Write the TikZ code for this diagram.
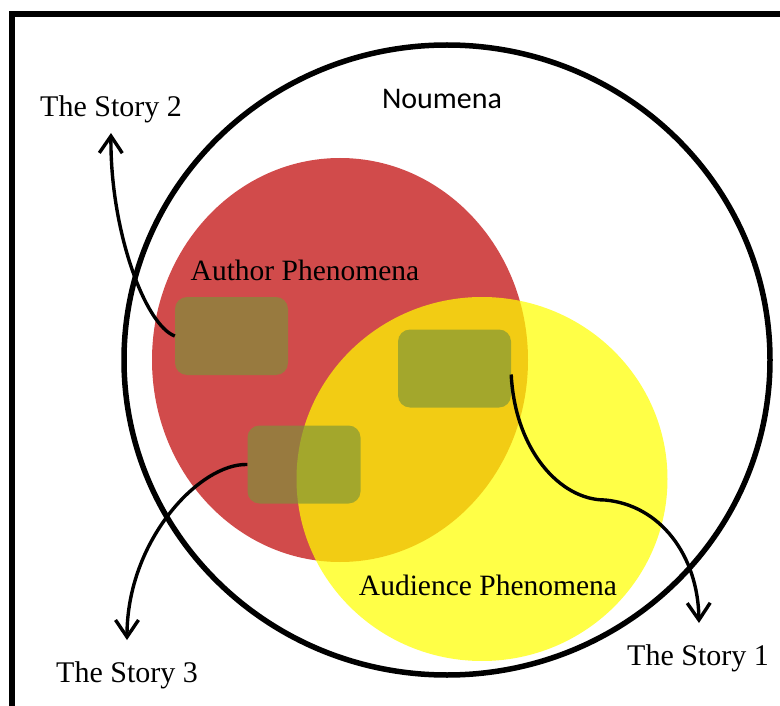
\documentclass[tikz,border=0pt]{standalone}
\usepackage{fontspec}
\setmainfont{Liberation Serif}
\newfontfamily\calib{Carlito}
\usetikzlibrary{arrows.meta}
\definecolor{redc}{RGB}{209,75,75}
\definecolor{yelc}{RGB}{255,255,0}
\definecolor{boxc}{RGB}{122,148,58}
\tikzset{
  story/.style={font=\fontsize{30}{34}\selectfont, anchor=base, inner sep=0pt},
  phen/.style={font=\fontsize{29.5}{34}\selectfont, anchor=base, inner sep=0pt},
  storybox/.style={fill=boxc, fill opacity=0.65, rounded corners=12pt, minimum width=113pt, minimum height=78pt, inner sep=0pt},
  link/.style={line width=3.4pt, -{Straight Barb[length=17pt,width=23pt,line width=3.4pt]}},
}
\begin{document}
\begin{tikzpicture}[x=1pt,y=-1pt]
\useasboundingbox (0,0) rectangle (780,706);
\fill[white] (0,0) rectangle (780,706);
\begin{scope}
\clip (0,0) rectangle (780,706);
\draw[line width=6pt] (12,14) rectangle (820,760);
\end{scope}
% circles
\fill[redc] (340,360) ellipse [x radius=188, y radius=202];
\fill[yelc, fill opacity=0.72] (482,479) ellipse [x radius=185.5, y radius=182];
\draw[line width=5.5pt] (447,360) ellipse [x radius=323, y radius=315];
% boxes
\node[storybox] (b1) at (231.5,336) {};
\node[storybox] (b2) at (304,464.5) {};
\node[storybox] (b3) at (454.5,368.5) {};
% texts
\node[font=\calib\fontsize{30}{34}\selectfont, anchor=base, inner sep=0pt] (noum) at (442,109) {Noumena};
\node[phen] (auth) at (305,280) {Author Phenomena};
\node[phen] (aud) at (488,595) {Audience Phenomena};
\node[story] (s2) at (111,117) {The Story 2};
\node[story] (s3) at (127,682) {The Story 3};
\node[story] (s1) at (698,665) {The Story 1};
% arrow ends
\coordinate (e2) at (111,133);
\coordinate (e3) at (127,640);
\coordinate (m1) at (605,500);
\coordinate (e1) at (699,623);
% connectors
\draw[link] (b1.west) .. controls (145,325) and (110,230) .. (e2);
\draw[link] (b2.west) .. controls (200,463) and (127,540) .. (e3);
\draw[link] ([yshift=-6pt]b3.east) .. controls (515,450) and (560,500) .. (m1)
  .. controls (660,505) and (698,555) .. (e1);
\end{tikzpicture}
\end{document}
